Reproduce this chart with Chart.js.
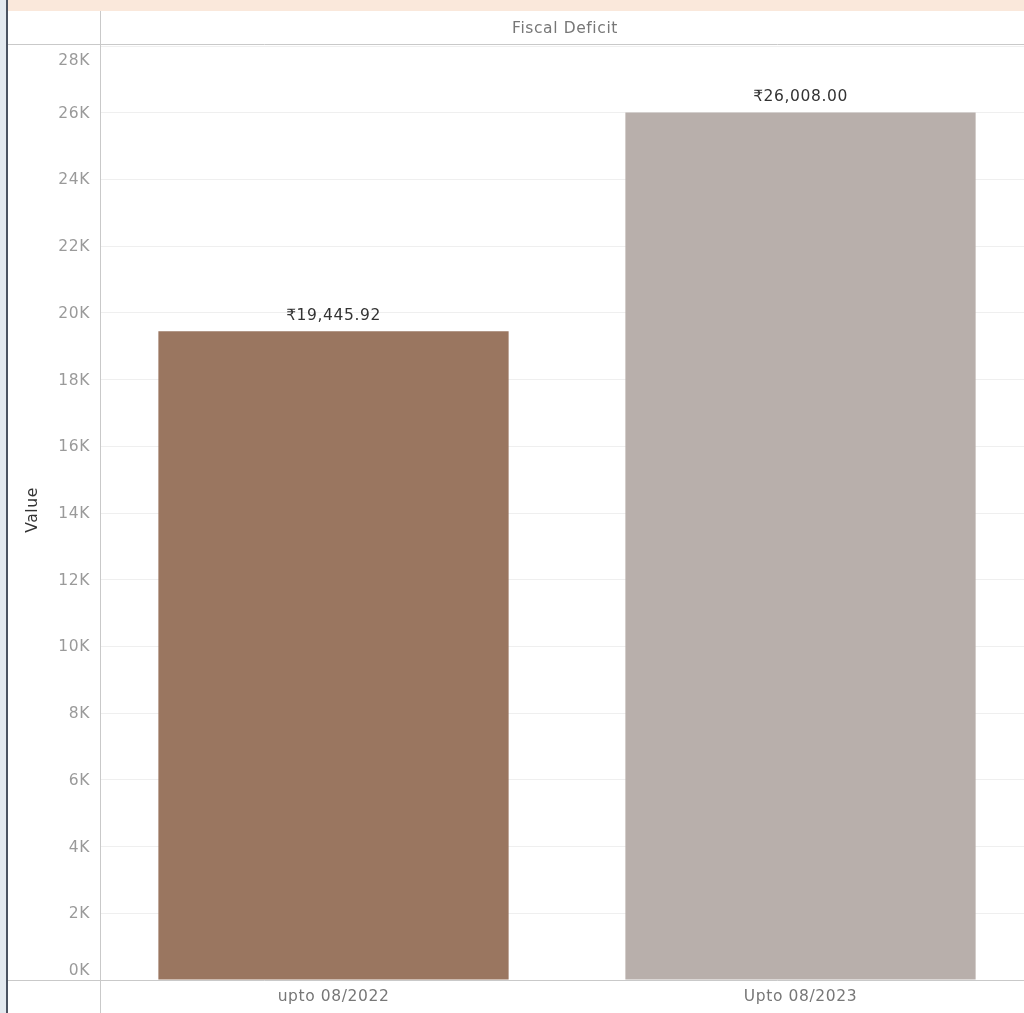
<!DOCTYPE html>
<html>
<head>
<meta charset="utf-8">
<script src="https://cdn.jsdelivr.net/npm/chart.js@4.4.0/dist/chart.umd.min.js"></script>
<style>
  html, body { margin: 0; padding: 0; background: #fff; }
  #wrap { position: relative; width: 1024px; height: 1013px; overflow: hidden; }
  #topStrip { position: absolute; left: 0; top: 0; width: 1024px; height: 11px; background: #fae8db; }
  #leftEdge { position: absolute; left: 0; top: 0; width: 6px; height: 1013px; background: #e3e9ef; }
  #leftLine { position: absolute; left: 6px; top: 0; width: 2px; height: 1013px; background: #4b5361; }
  canvas { position: absolute; left: 0; top: 0; }
</style>
</head>
<body>
<div id="wrap">
  <canvas id="chart" width="1034" height="1013"></canvas>
  <div id="topStrip"></div>
  <div id="leftEdge"></div>
  <div id="leftLine"></div>
</div>
<script>
// chart data
const categories = ["upto 08/2022", "Upto 08/2023"];
const values = [19445.92, 26008.00];
const barColors = ["#9a7660", "#b8afab"];
const yMax = 28000;
const yStep = 2000;
const headerTitle = "Fiscal Deficit";
const axisTitle = "Value";

const fontFamily = "'DejaVu Sans', 'Noto Sans', sans-serif";

// format like ₹19,445.92
function rupee(v) {
  return "₹" + v.toLocaleString("en-US", { minimumFractionDigits: 2, maximumFractionDigits: 2 });
}

function setText(ctx, color, align) {
  ctx.fillStyle = color;
  ctx.font = "15.5px " + fontFamily;
  ctx.letterSpacing = "0.6px";
  ctx.textAlign = align;
  ctx.textBaseline = "middle";
}

// header, frame lines, axis labels and value labels (Tableau look)
const framePlugin = {
  id: "frame",
  afterDraw(chart) {
    const { ctx, chartArea } = chart;
    const yScale = chart.scales.y;
    const xScale = chart.scales.x;
    ctx.save();

    // frame lines
    ctx.strokeStyle = "#c9c9c9";
    ctx.lineWidth = 1;
    ctx.beginPath();
    ctx.moveTo(8, 44.5);
    ctx.lineTo(chart.width, 44.5);
    ctx.moveTo(8, chartArea.bottom + 0.5);
    ctx.lineTo(chart.width, chartArea.bottom + 0.5);
    ctx.moveTo(chartArea.left + 0.5, 11);
    ctx.lineTo(chartArea.left + 0.5, chart.height);
    ctx.stroke();

    // header
    setText(ctx, "#777", "center");
    ctx.fillText(headerTitle, 565, 29);

    // y tick labels, kept inside the pane like Tableau does
    setText(ctx, "#9a9a9a", "right");
    yScale.ticks.forEach(t => {
      let y = yScale.getPixelForValue(t.value);
      y = Math.min(Math.max(y, chartArea.top + 14), chartArea.bottom - 10);
      ctx.fillText((t.value / 1000) + "K", 90, y + 1);
    });

    // y axis title
    ctx.save();
    ctx.translate(33, 510);
    ctx.rotate(-Math.PI / 2);
    setText(ctx, "#333", "center");
    ctx.fillText(axisTitle, 0, 0);
    ctx.restore();

    // x labels
    setText(ctx, "#777", "center");
    categories.forEach((c, i) => {
      ctx.fillText(c, xScale.getPixelForValue(i), 997);
    });

    // value labels above bars
    setText(ctx, "#333", "center");
    chart.getDatasetMeta(0).data.forEach((bar, i) => {
      ctx.fillText(rupee(values[i]), bar.x, bar.y - 15);
    });

    ctx.restore();
  }
};

new Chart(document.getElementById("chart"), {
  type: "bar",
  data: {
    labels: categories,
    datasets: [{
      label: "Value",
      data: values,
      backgroundColor: barColors,
      borderWidth: 0,
      barPercentage: 0.75,
      categoryPercentage: 1
    }]
  },
  options: {
    responsive: false,
    animation: false,
    layout: { padding: { top: 46, left: 8, right: 0, bottom: 0 } },
    plugins: {
      legend: { display: false },
      tooltip: { enabled: false },
      title: { display: false }
    },
    scales: {
      x: {
        grid: { display: false, drawTicks: false },
        border: { display: false },
        ticks: { display: false },
        afterFit(scale) { scale.height = 33; }
      },
      y: {
        min: 0,
        max: yMax,
        grid: { color: "#efefef", lineWidth: 1, drawTicks: false },
        border: { display: false },
        ticks: { display: false, stepSize: yStep },
        afterFit(scale) { scale.width = 92; }
      }
    }
  },
  plugins: [framePlugin]
});
</script>
</body>
</html>
